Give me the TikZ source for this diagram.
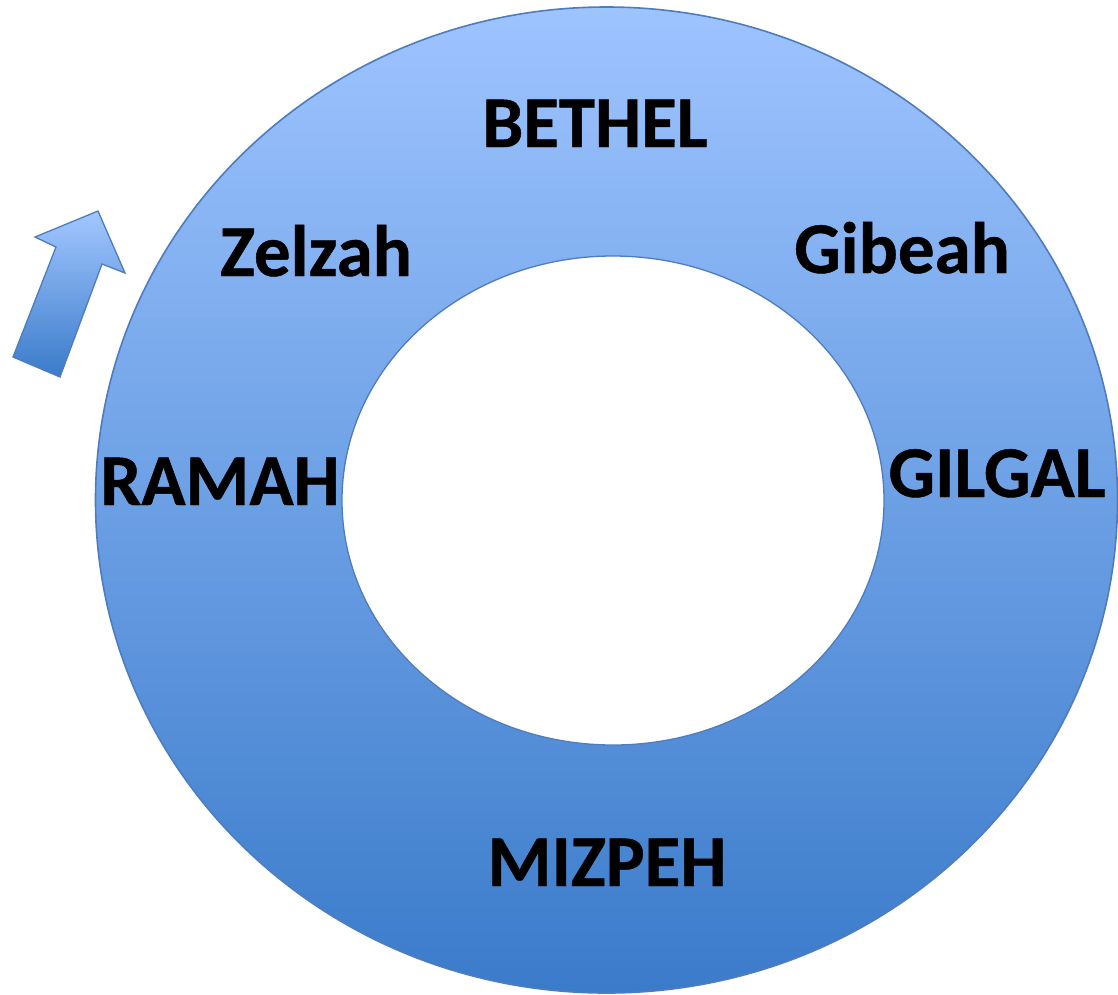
\documentclass[tikz,border=0pt]{standalone}
\usepackage{fontspec}
\setmainfont{Carlito}[BoldFeatures={FakeBold=0.6}]
\definecolor{ringtop}{RGB}{158,196,255}
\definecolor{ringbot}{RGB}{58,123,202}
\definecolor{ringedge}{RGB}{78,124,190}
\begin{document}
\begin{tikzpicture}[x=1pt,y=-1pt,
  place/.style={anchor=base,font=\fontsize{73}{80}\selectfont\bfseries,text=black,inner sep=0pt},
  ringshape/.style={draw=ringedge,line width=1.6pt,top color=ringtop,bottom color=ringbot},
  holeshape/.style={draw=ringedge,line width=1.3pt,fill=white},
  arrowshape/.style={draw=ringedge,line width=1.3pt,top color=ringtop!95!white,bottom color=ringbot,line join=miter}]
\useasboundingbox (0,0) rectangle (1118,994);
\fill[white] (0,0) rectangle (1118,994);
\path[ringshape] (606.5,500) ellipse [x radius=511,y radius=493];
\path[holeshape] (613,500.5) ellipse [x radius=271,y radius=244.5];
\path[arrowshape] (98,211) -- (125,273) -- (102,264) -- (60,377) -- (13,357) -- (56,247) -- (35,237) -- cycle;
\node[place] (bethel) at (595,147) {BETHEL};
\node[place] (zelzah) at (316,276) {Zelzah};
\node[place] (gibeah) at (902,273) {Gibeah};
\node[place] (ramah) at (220,505) {RAMAH};
\node[place] (gilgal) at (997,497) {GILGAL};
\node[place] (mizpeh) at (607,886) {MIZPEH};
\end{tikzpicture}
\end{document}
